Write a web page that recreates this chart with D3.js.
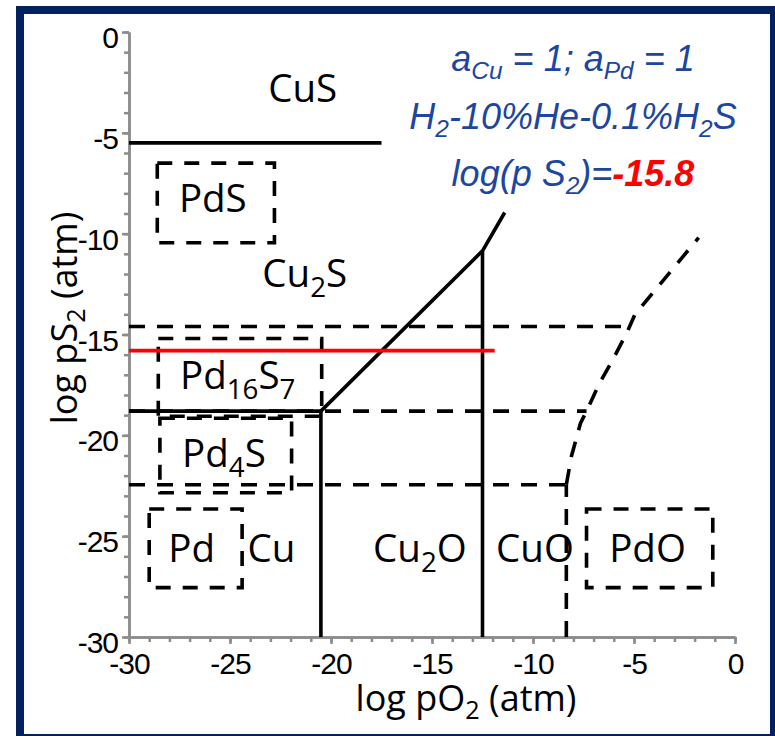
<!DOCTYPE html>
<html>
<head>
<meta charset="utf-8">
<script src="https://cdn.jsdelivr.net/npm/d3@7"></script>
<style>
  body { margin: 0; background: #fff; }
  svg { display: block; }
</style>
</head>
<body>
<svg id="chart" width="775" height="736"></svg>
<script>
// Cu–Pd–S–O predominance diagram: log pS2 vs log pO2 (atm)

const xTickValues = [-30, -25, -20, -15, -10, -5, 0];
const xTickLabels = ["-30", "-25", "-20", "-15", "-10", "-5", "0"];
const yTickValues = [0, -5, -10, -15, -20, -25, -30];
const yTickLabels = ["0", "-5", "-10", "-15", "-20", "-25", "-30"];

// Cu phase boundaries, solid lines: [log pO2, log pS2]
const cuBoundaries = [
  [[-30, -5.5], [-17.5, -5.5]],                       // CuS | Cu2S
  [[-30, -18.8], [-20.5, -18.8]],                     // Cu2S | Cu
  [[-20.5, -30], [-20.5, -18.8]],                     // Cu | Cu2O
  [[-20.5, -18.8], [-12.5, -10.85], [-11.4, -8.95]],  // Cu2S | Cu2O
  [[-12.5, -30], [-12.5, -10.85]]                     // Cu2O | CuO
];

// Pd phase boundaries, dashed lines
const pdBoundaries = [
  [[-30, -14.6], [-5.4, -14.6]],
  [[-30, -18.8], [-7.35, -18.8]],
  [[-30, -22.45], [-8.35, -22.45]],
  [[-8.35, -30], [-8.35, -22.45]],
  [[-8.35, -22.45], [-8.1, -21.05], [-7.65, -19.4], [-7.35, -18.8],
   [-6.7, -17.4], [-6.05, -16.25], [-5.35, -14.9], [-4.95, -14.0], [-1.8, -10.2]]
];

// Pd phase fields, dashed boxes
const pdBoxes = [
  { x0: -28.6,  x1: -22.8,  y0: -6.5,   y1: -10.45 }, // PdS
  { x0: -28.55, x1: -20.46, y0: -15.2,  y1: -19.05 }, // Pd16S7
  { x0: -28.47, x1: -21.95, y0: -19.15, y1: -22.85 }, // Pd4S
  { x0: -29.0,  x1: -24.4,  y0: -23.65, y1: -27.55 }, // Pd
  { x0: -7.35,  x1: -1.1,   y0: -23.65, y1: -27.55 }  // PdO
];

// Gas composition line
const gasLogPS2 = -15.8;
const gasLineX = [-30, -11.9];

// Phase field names (text with subscripts) anchored in data units
const phaseLabels = [
  { x: -21.4,  y: -3.45,  parts: [{ t: "CuS" }] },
  { x: -21.3,  y: -12.62, parts: [{ t: "Cu" }, { t: "2", sub: true }, { t: "S" }] },
  { x: -25.85, y: -8.95,  parts: [{ t: "PdS" }] },
  { x: -24.62, y: -17.7,  parts: [{ t: "Pd" }, { t: "16", sub: true }, { t: "S" }, { t: "7", sub: true }] },
  { x: -25.3,  y: -21.55, parts: [{ t: "Pd" }, { t: "4", sub: true }, { t: "S" }] },
  { x: -26.9,  y: -26.27, parts: [{ t: "Pd" }] },
  { x: -22.95, y: -26.27, parts: [{ t: "Cu" }] },
  { x: -15.6,  y: -26.27, parts: [{ t: "Cu" }, { t: "2", sub: true }, { t: "O" }] },
  { x: -9.9,   y: -26.27, parts: [{ t: "CuO" }] },
  { x: -4.33,  y: -26.27, parts: [{ t: "PdO" }] }
];

// Conditions printed in the upper right
const conditionLines = [
  [{ t: "a" }, { t: "Cu", sub: true }, { t: " = 1; a" }, { t: "Pd", sub: true }, { t: " = 1" }],
  [{ t: "H" }, { t: "2", sub: true }, { t: "-10%He-0.1%H" }, { t: "2", sub: true }, { t: "S" }],
  [{ t: "log(p S" }, { t: "2", sub: true }, { t: ")=" }, { t: "-15.8", hot: true }]
];

const svg = d3.select("#chart");
const x = d3.scaleLinear().domain([-30, 0]).range([129, 735]);
const y = d3.scaleLinear().domain([-30, 0]).range([637, 32]);

const AXIS = "#8c8c8c";
const BLUE = "#1c46a0";
const LABEL_FONT = "'Open Sans', 'Noto Sans', sans-serif";
const TICK_FONT = "'Liberation Sans', Arial, sans-serif";

svg.append("rect").attr("width", 775).attr("height", 736).attr("fill", "#fff");

// Rich text helper: tspans with subscript offsets
function richText(sel, parts, size, subScale, subShift, extra) {
  let shift = 0;
  parts.forEach(p => {
    const target = p.sub ? subShift : 0;
    const ts = sel.append("tspan")
      .attr("dy", target - shift)
      .attr("font-size", p.sub ? size * subScale : size)
      .text(p.t);
    if (extra) extra(ts, p);
    shift = target;
  });
}

// ----- axes -----
const gx = svg.append("g").attr("transform", `translate(0,${y(-30)})`);
gx.call(d3.axisBottom(x).tickValues(d3.range(-30, 1)).tickSize(5).tickSizeOuter(0).tickFormat(""));
const gxMajor = svg.append("g").attr("transform", `translate(0,${y(-30)})`);
gxMajor.call(d3.axisBottom(x).tickValues(xTickValues).tickSize(7).tickSizeOuter(0)
  .tickPadding(9).tickFormat((d, i) => xTickLabels[i]));

const gy = svg.append("g").attr("transform", `translate(${x(-30)},0)`);
gy.call(d3.axisLeft(y).tickValues(d3.range(-30, 1)).tickSize(5).tickSizeOuter(0).tickFormat(""));
const gyMajor = svg.append("g").attr("transform", `translate(${x(-30)},0)`);
gyMajor.call(d3.axisLeft(y).tickValues(yTickValues).tickSize(7).tickSizeOuter(0)
  .tickPadding(4).tickFormat((d, i) => yTickLabels[i]));

// minor axes carry ticks only
gx.selectAll(".tick text").remove();
gy.selectAll(".tick text").remove();

[gx, gxMajor, gy, gyMajor].forEach(g => {
  g.select(".domain").attr("stroke", AXIS).attr("stroke-width", 2.5);
  g.selectAll(".tick line").attr("stroke", AXIS).attr("stroke-width", 2.5);
  g.selectAll(".tick text").attr("fill", "#000")
    .attr("font-family", TICK_FONT).attr("font-size", 30).attr("letter-spacing", -1);
});
gyMajor.selectAll(".tick text").attr("dy", "0.32em").attr("y", 6);

// ----- Pd boundaries (dashed) -----
const line = d3.line().x(d => x(d[0])).y(d => y(d[1]));
svg.append("g").selectAll("path").data(pdBoundaries).join("path")
  .attr("d", line).attr("fill", "none").attr("stroke", "#000")
  .attr("stroke-width", 3.6).attr("stroke-dasharray", "16,12");

svg.append("g").selectAll("rect").data(pdBoxes).join("rect")
  .attr("x", d => x(d.x0)).attr("y", d => y(d.y0))
  .attr("width", d => x(d.x1) - x(d.x0)).attr("height", d => y(d.y1) - y(d.y0))
  .attr("fill", "none").attr("stroke", "#000")
  .attr("stroke-width", 3.6).attr("stroke-dasharray", "15,12");

// ----- Cu boundaries (solid) -----
svg.append("g").selectAll("path").data(cuBoundaries).join("path")
  .attr("d", line).attr("fill", "none").attr("stroke", "#000")
  .attr("stroke-width", 3.6).attr("stroke-linejoin", "miter");

// ----- gas line -----
svg.append("path")
  .attr("d", line(gasLineX.map(v => [v, gasLogPS2])))
  .attr("stroke", "#ff0000").attr("stroke-width", 3.6).attr("fill", "none");

// ----- phase labels -----
svg.append("g").selectAll("text").data(phaseLabels).join("text")
  .attr("x", d => x(d.x)).attr("y", d => y(d.y))
  .attr("text-anchor", "middle").attr("font-family", LABEL_FONT).attr("fill", "#000")
  .each(function (d) { richText(d3.select(this), d.parts, 38.5, 0.72, 10); });

// ----- conditions -----
svg.append("g").selectAll("text").data(conditionLines).join("text")
  .attr("x", 573).attr("y", (d, i) => 71 + i * 57.5)
  .attr("text-anchor", "middle").attr("font-family", TICK_FONT)
  .attr("font-style", "italic").attr("fill", BLUE)
  .each(function (d) {
    richText(d3.select(this), d, 36, 0.68, 8, (ts, p) => {
      if (p.hot) ts.attr("fill", "#ff0000").attr("font-weight", "bold");
    });
  });

// ----- axis titles -----
const xTitle = svg.append("text").attr("x", 466).attr("y", 711)
  .attr("text-anchor", "middle").attr("font-family", LABEL_FONT).attr("fill", "#000");
richText(xTitle, [{ t: "log pO" }, { t: "2", sub: true }, { t: " (atm)" }], 36, 0.7, 8);

const yTitle = svg.append("text")
  .attr("transform", "translate(77,318) rotate(-90)")
  .attr("text-anchor", "middle").attr("font-family", LABEL_FONT).attr("fill", "#000");
richText(yTitle, [{ t: "log pS" }, { t: "2", sub: true }, { t: " (atm)" }], 36, 0.7, 8);

// ----- frame -----
svg.append("rect").attr("x", 20).attr("y", 10).attr("width", 754).attr("height", 728)
  .attr("fill", "none").attr("stroke", "#03215f").attr("stroke-width", 8);
</script>
</body>
</html>
